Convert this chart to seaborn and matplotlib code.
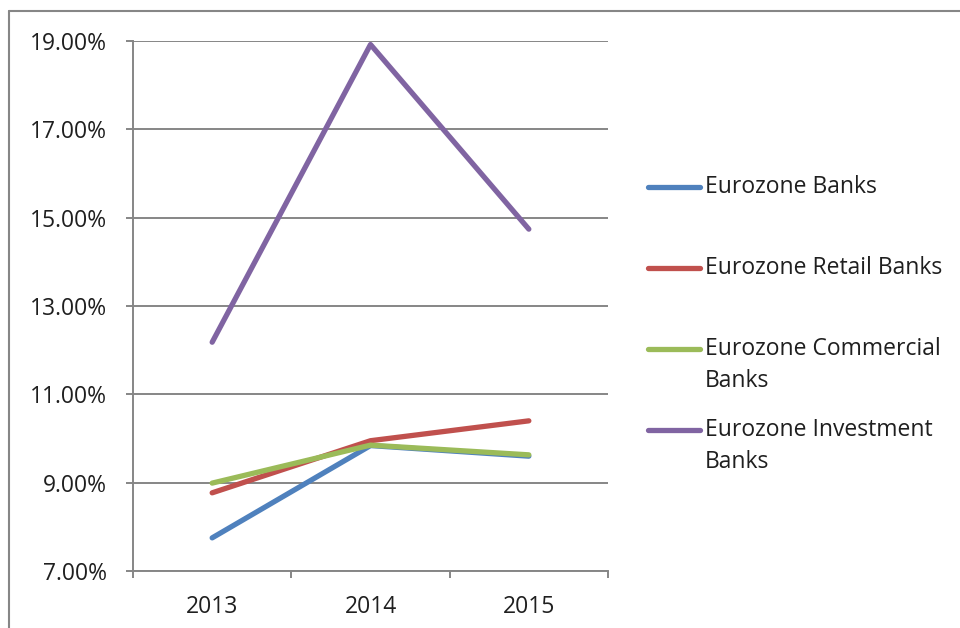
import pandas as pd
import matplotlib
matplotlib.use("Agg")
import matplotlib.pyplot as plt
import seaborn as sns
from matplotlib.lines import Line2D
from matplotlib.ticker import FuncFormatter, FixedLocator

# values (percent)
years = ["2013", "2014", "2015"]
eurozone_banks = [7.75, 9.84, 9.60]
retail_banks = [8.77, 9.95, 10.40]
commercial_banks = [8.99, 9.85, 9.63]
investment_banks = [12.18, 18.92, 14.74]

series_names = ["Eurozone Banks", "Eurozone Retail Banks",
                "Eurozone Commercial Banks", "Eurozone Investment Banks"]
legend_lines = [["Eurozone Banks"], ["Eurozone Retail Banks"],
                ["Eurozone Commercial", "Banks"], ["Eurozone Investment", "Banks"]]
colors = ["#4F81BD", "#C0504D", "#9BBB59", "#8064A2"]

rows = []
for name, vals in zip(series_names,
                      [eurozone_banks, retail_banks, commercial_banks, investment_banks]):
    for i, (yr, v) in enumerate(zip(years, vals)):
        rows.append({"Series": name, "Year": yr, "pos": i, "Value": v})
df = pd.DataFrame(rows)

sns.set_style("white")
plt.rcParams["font.family"] = ["Open Sans", "DejaVu Sans"]

W, H = 960, 628
fig = plt.figure(figsize=(W / 100, H / 100), dpi=100)
ax = fig.add_axes([133 / W, 1 - 571 / H, 475 / W, 530 / H])

grid_col = "#868686"
text_col = "#1f1f1f"
fs = 16.5
lw = 3.8
sns.lineplot(data=df, x="pos", y="Value", hue="Series", hue_order=series_names,
             palette=colors, linewidth=lw, legend=False, ax=ax,
             solid_capstyle="round", zorder=3)

ax.set_xlim(-0.5, 2.5)
ax.set_ylim(7, 19)
ax.set_yticks([7, 9, 11, 13, 15, 17, 19])
ax.yaxis.set_major_formatter(FuncFormatter(lambda v, p: f"{v:.2f}%"))
ax.yaxis.grid(True, color=grid_col, linewidth=1.4)
ax.set_axisbelow(True)

# category axis: tick marks at boundaries, labels at centers
ax.xaxis.set_major_locator(FixedLocator([-0.5, 0.5, 1.5, 2.5]))
ax.xaxis.set_minor_locator(FixedLocator([0, 1, 2]))
ax.set_xticklabels([], minor=False)
ax.set_xticklabels(years, minor=True)
ax.tick_params(axis="x", which="major", length=5, width=1.4, color=grid_col,
               direction="out", bottom=True)
ax.tick_params(axis="x", which="minor", length=0, labelsize=fs, pad=17,
               labelcolor=text_col)
ax.tick_params(axis="y", length=5, width=1.4, color=grid_col, direction="out",
               left=True, labelsize=fs, pad=14, labelcolor=text_col)

ax.set_xlabel("")
ax.set_ylabel("")
for side in ["top", "right"]:
    ax.spines[side].set_visible(False)
for side in ["left", "bottom"]:
    ax.spines[side].set_color(grid_col)
    ax.spines[side].set_linewidth(1.4)

# legend, Excel style: handle aligned with the first text line
entry_y = [187, 268, 349, 430]
line_gap = 32
for c, lines, y in zip(colors, legend_lines, entry_y):
    fig.add_artist(Line2D([648 / W, 700 / W], [1 - y / H] * 2, transform=fig.transFigure,
                          color=c, linewidth=lw, solid_capstyle="round"))
    for k, txt in enumerate(lines):
        fig.text(705 / W, 1 - (y + k * line_gap) / H, txt, fontsize=fs,
                 color=text_col, ha="left", va="center")

# outer chart frame
fig.add_artist(Line2D([8.5 / W, 8.5 / W], [0, 1 - 11 / H],
                      transform=fig.transFigure, color=grid_col, linewidth=1.5))
fig.add_artist(Line2D([8.5 / W, 1], [1 - 11 / H, 1 - 11 / H],
                      transform=fig.transFigure, color=grid_col, linewidth=1.5))

plt.savefig("out.png", dpi=100)
plt.close()
